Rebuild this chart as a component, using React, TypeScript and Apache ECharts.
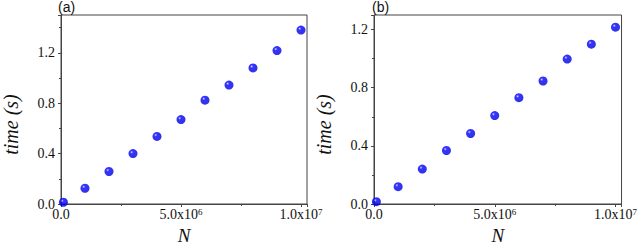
import React, { useEffect, useRef } from "react";
import * as echarts from "echarts";

const nValues = [1e5, 1e6, 2e6, 3e6, 4e6, 5e6, 6e6, 7e6, 8e6, 9e6, 1e7];
const timeA = [0.014, 0.125, 0.258, 0.4, 0.536, 0.67, 0.824, 0.944, 1.08, 1.218, 1.38];
const timeB = [0.016, 0.119, 0.24, 0.368, 0.485, 0.608, 0.731, 0.846, 0.997, 1.099, 1.216];
const panelLabels = ["(a)", "(b)"];
const xTickLabels: Record<string, string> = {
  "0": "0.0",
  "5000000": "5.0x10{sup|6}",
  "10000000": "1.0x10{sup|7}",
};
const yTickValues = [0, 0.4, 0.8, 1.2];
const yMaxes = [1.5, 1.3];

const SERIF = "Times New Roman, Liberation Serif, serif";
const AXIS_COLOR = "#454545";

function sphere() {
  return new echarts.graphic.RadialGradient(0.36, 0.34, 0.7, [
    { offset: 0, color: "#ffffff" },
    { offset: 0.1, color: "#7070ff" },
    { offset: 0.26, color: "#0000ff" },
    { offset: 1, color: "#0000d8" },
  ]);
}

function xAxis(gridIndex: number) {
  return {
    type: "value",
    gridIndex,
    min: 0,
    max: 1.025e7,
    interval: 5e6,
    name: "N",
    nameLocation: "middle",
    nameGap: 21,
    nameTextStyle: { fontFamily: SERIF, fontStyle: "italic", fontSize: 19, color: "#111" },
    axisLine: { show: true, onZero: false, lineStyle: { color: AXIS_COLOR, width: 1 } },
    axisTick: { show: true, inside: false, length: 3, lineStyle: { color: AXIS_COLOR } },
    minorTick: { show: true, splitNumber: 2, length: 2, lineStyle: { color: AXIS_COLOR } },
    splitLine: { show: false },
    axisLabel: {
      margin: 3,
      fontFamily: SERIF,
      fontSize: 14,
      color: "#111",
      formatter: (v: number) => xTickLabels[String(v)] ?? "",
      rich: {
        sup: { fontFamily: SERIF, fontSize: 9, verticalAlign: "top", lineHeight: 8, color: "#111" },
      },
    },
  };
}

function yAxis(gridIndex: number) {
  return {
    type: "value",
    gridIndex,
    min: 0,
    max: yMaxes[gridIndex],
    interval: 0.4,
    name: "time (s)",
    nameLocation: "middle",
    nameGap: 40,
    nameTextStyle: {
      fontFamily: SERIF,
      fontStyle: "italic",
      fontSize: 20,
      color: "#111",
      padding: [0, 30, 0, 0],
    },
    axisLine: { show: true, onZero: false, lineStyle: { color: AXIS_COLOR, width: 1 } },
    axisTick: { show: true, inside: false, length: 3, lineStyle: { color: AXIS_COLOR } },
    minorTick: { show: true, splitNumber: 2, length: 2, lineStyle: { color: AXIS_COLOR } },
    splitLine: { show: false },
    axisLabel: {
      margin: 6,
      fontFamily: SERIF,
      fontSize: 14,
      color: "#111",
      formatter: (v: number) =>
        yTickValues.some((t) => Math.abs(t - v) < 1e-9) ? v.toFixed(1) : "",
    },
  };
}

export default function App() {
  const ref = useRef<HTMLDivElement>(null);
  useEffect(() => {
    if (!ref.current) return;
    const chart = echarts.init(ref.current, undefined, { renderer: "svg" });
    const grids = [
      { left: 60, top: 15, width: 247, height: 189 },
      { left: 374, top: 15, width: 249, height: 189 },
    ];
    chart.setOption({
      animation: false,
      backgroundColor: "#ffffff",
      grid: grids.map((g) => ({
        ...g,
        show: true,
        borderColor: AXIS_COLOR,
        borderWidth: 1,
        backgroundColor: "transparent",
      })),
      xAxis: [xAxis(0), xAxis(1)],
      yAxis: [yAxis(0), yAxis(1)],
      graphic: panelLabels.map((t, i) => ({
        type: "text",
        left: grids[i].left - 2,
        top: 0,
        style: {
          text: t,
          font: "14px Liberation Sans, Arial, sans-serif",
          fill: "#111",
        },
      })),
      series: [timeA, timeB].map((arr, i) => ({
        type: "scatter",
        xAxisIndex: i,
        yAxisIndex: i,
        symbol: "circle",
        symbolSize: 9,
        itemStyle: { color: sphere() },
        data: nValues.map((n, j) => [n, arr[j]]),
      })),
    });
    return () => chart.dispose();
  }, []);
  return (
    <div
      ref={ref}
      style={{ position: "fixed", left: 0, top: 0, width: 640, height: 250 }}
    />
  );
}
